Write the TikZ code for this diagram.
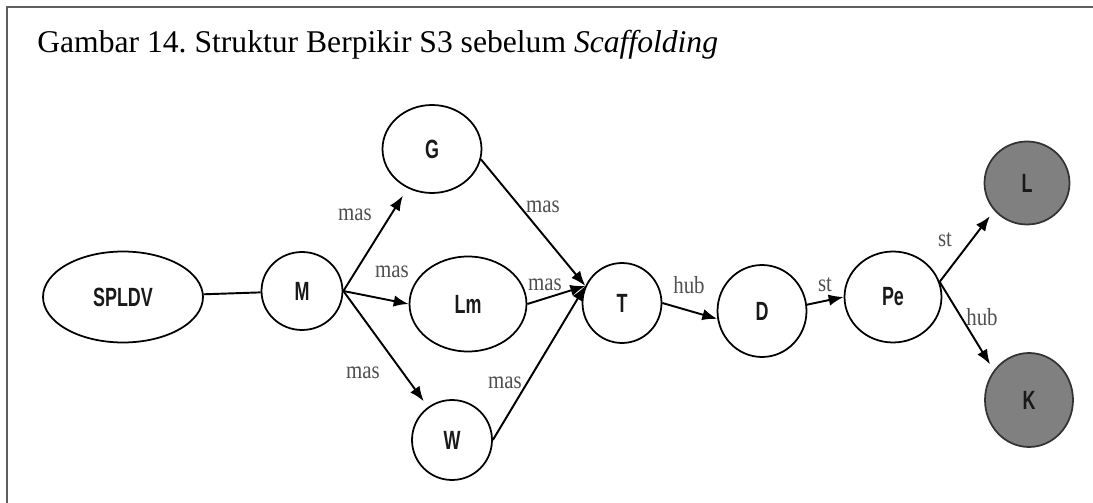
\documentclass[tikz,border=0pt]{standalone}
\usepackage{fontspec}
\setmainfont{Liberation Serif}
\newfontfamily\nodefont[FakeStretch=0.68]{Liberation Sans}
\newfontfamily\relfont[FakeStretch=0.85]{Liberation Serif}
\usetikzlibrary{shapes.geometric, arrows.meta, calc}

\definecolor{framegray}{RGB}{95,95,95}
\definecolor{endgray}{RGB}{128,128,128}
\definecolor{relgray}{RGB}{80,80,80}

\tikzset{
  concept/.style={draw, ellipse, line width=1pt, inner sep=0pt, text=black!90,
    font={\nodefont\bfseries\fontsize{15}{17}\selectfont}},
  result/.style={concept, fill=endgray, draw=black!80},
  rel/.style={text=relgray, inner sep=0pt, font={\relfont\fontsize{14}{16}\selectfont}},
  flow/.style={line width=1.1pt, -{Latex[length=8.5pt,width=6.5pt]}}
}
\frenchspacing

\begin{document}
\begin{tikzpicture}[x=0.02cm, y=-0.02cm]
\useasboundingbox (0,0) rectangle (1093,503);
% frame and caption
\draw[framegray, line width=1pt] (7,503) -- (7,7) -- (1093,7);
\node[anchor=base west, inner sep=0pt, font=\fontsize{18}{22}\selectfont] (caption) at (37,53)
  {Gambar 14. Struktur Berpikir S3 sebelum \textit{Scaffolding}};

% thinking structure
\node[concept, minimum width=3.2cm, minimum height=1.82cm] (spldv) at (123,297) {SPLDV};
\node[concept, minimum width=1.62cm, minimum height=1.56cm] (m) at (302,291) {M};
\node[concept, minimum width=1.98cm, minimum height=1.76cm] (g) at (432,149) {G};
\node[concept, minimum width=2.34cm, minimum height=1.9cm] (lm) at (468,304) {Lm};
\node[concept, minimum width=1.6cm, minimum height=1.6cm] (w) at (452,440) {W};
\node[concept, minimum width=1.58cm, minimum height=1.6cm] (t) at (622,303) {T};
\node[concept, minimum width=1.78cm, minimum height=1.84cm] (d) at (762,311) {D};
\node[concept, minimum width=1.94cm, minimum height=1.82cm] (pe) at (893,297) {Pe};
\node[result, minimum width=1.7cm, minimum height=1.66cm] (l) at (1027,183) {L};
\node[result, minimum width=1.76cm, minimum height=1.88cm] (k) at (1029,400) {K};

\coordinate (pe-out) at (pe.18);

\draw[line width=1.1pt] (spldv) -- (m);
\draw[flow, shorten >=5pt] (m.east) -- (g);
\draw[flow] (m.east) -- (lm.west);
\draw[flow, shorten >=4pt] (m.east) -- (w);
\draw[flow] (g.-12) -- (t.155);
\draw[flow] (lm.east) -- (t.155);
\draw[flow] (w.east) -- (t.155);
\draw[flow] (t.east) -- (d.190);
\draw[flow] (d.8) -- (pe.west);
\draw[flow, shorten >=4pt] (pe-out) -- (l.220);
\draw[flow, shorten >=4pt] (pe-out) -- (k.140);

% relation labels
\node[rel] (mas-g) at (355,215) {mas};
\node[rel] (mas-lm) at (392,272) {mas};
\node[rel] (mas-w) at (363,373) {mas};
\node[rel] (mas-gt) at (543,207) {mas};
\node[rel] (mas-lt) at (545,285) {mas};
\node[rel] (mas-wt) at (505,383) {mas};
\node[rel] (hub-td) at (689,285) {hub};
\node[rel] (st-dp) at (825,285) {st};
\node[rel] (st-pl) at (945,240) {st};
\node[rel] (hub-pk) at (982,317) {hub};
\end{tikzpicture}
\end{document}
